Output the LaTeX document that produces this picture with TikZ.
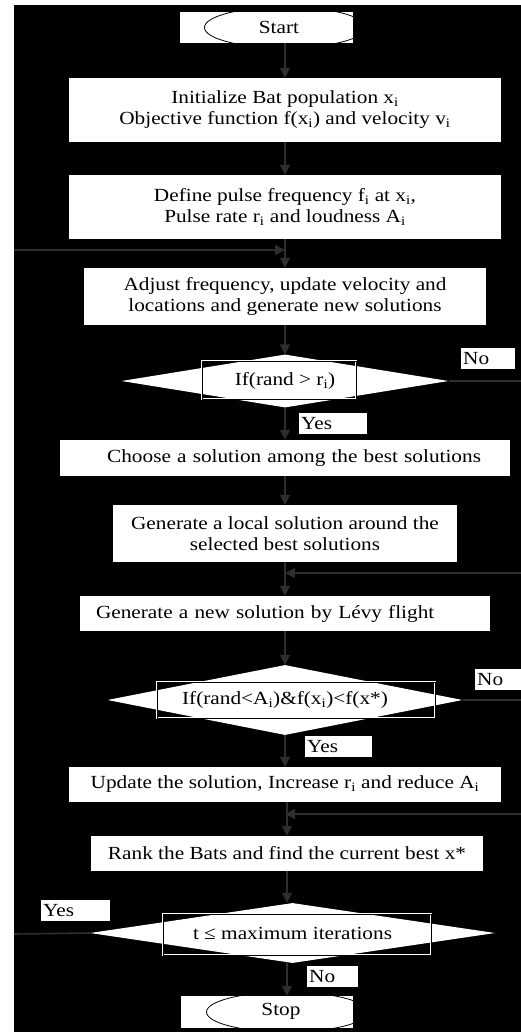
\documentclass[tikz,border=0pt]{standalone}
\usepackage{fontspec}
\setmainfont{Liberation Serif}[FakeStretch=1.15]
\usetikzlibrary{shapes.geometric,arrows.meta}

\tikzset{
  box/.style={fill=white,align=center,inner sep=0pt,font=\fontsize{18.5}{21}\selectfont},
  decision/.style={diamond,fill=white,inner sep=0pt,aspect=6,font=\fontsize{18.5}{21}\selectfont},
  frame/.style={draw=white,double=black,double distance=0.8pt,line width=0.8pt,inner sep=0pt},
  tag/.style={fill=white,inner sep=2pt,text width=#1,align=left,anchor=north west,
    minimum height=21pt,font=\fontsize{18.5}{21}\selectfont},
  arrow/.style={draw=black!82,line width=1.6pt,-{Triangle[length=10pt,width=10pt]}},
  link/.style={draw=black!82,line width=1.6pt}
}

\begin{document}
\begin{tikzpicture}[x=1pt,y=-1pt]
  \useasboundingbox (0,0) rectangle (521,1032);
  \fill[white] (0,0) rectangle (521,1032);
  \fill[black] (14,5) rectangle (521,1032);

  % terminals
  \node[box,minimum width=173pt,minimum height=31pt] (startbox) at (266.5,27.5) {};
  \node[ellipse,draw=black,line width=0.8pt,minimum width=161pt,minimum height=41pt] (start) at (285,27.5) {};
  \node[font=\fontsize{18.5}{21}\selectfont] at (279,27) {Start};

  % process boxes
  \node[box,minimum width=432pt,minimum height=64pt] (init) at (285,110)
    {Initialize Bat population x\textsubscript{i}\\Objective function f(x\textsubscript{i}) and velocity v\textsubscript{i}};
  \node[box,minimum width=432pt,minimum height=64pt] (define) at (285,207)
    {Define pulse frequency f\textsubscript{i} at x\textsubscript{i},\\Pulse rate r\textsubscript{i} and loudness A\textsubscript{i}};
  \node[box,minimum width=402pt,minimum height=57pt] (adjust) at (285,296.5)
    {Adjust frequency, update velocity and\\locations and generate new solutions};

  % first test
  \node[decision,minimum width=327pt,minimum height=53pt] (dec1) at (285,381) {If(rand > r\textsubscript{i})};
  \node[frame,minimum width=154pt,minimum height=38pt] (dec1box) at (279,380) {};
  \node[tag=50pt] (no1) at (461,348) {No};
  \node[tag=64pt] (yes1) at (299,413) {Yes};

  \node[box,align=right,inner xsep=29pt,text width=392pt,minimum height=36pt] (choose) at (285,458)
    {Choose a solution among the best solutions};
  \node[box,minimum width=344pt,minimum height=57pt] (local) at (285,533.5)
    {Generate a local solution around the\\selected best solutions};
  \node[box,align=left,inner xsep=16pt,text width=378pt,minimum height=35pt] (levy) at (285,613.5)
    {Generate a new solution by Lévy flight};

  % second test
  \node[decision,minimum width=355pt,minimum height=70pt] (dec2) at (285,700)
    {If(rand<A\textsubscript{i})\&f(x\textsubscript{i})<f(x*)};
  \node[frame,minimum width=278pt,minimum height=36pt] (dec2box) at (296,700) {};
  \node[tag=50pt] (no2) at (475,669) {No};
  \node[tag=63pt] (yes2) at (305,736) {Yes};

  \node[box,minimum width=432pt,minimum height=35pt] (update) at (285,784.5)
    {Update the solution, Increase r\textsubscript{i} and reduce A\textsubscript{i}};
  \node[box,minimum width=392pt,minimum height=35pt] (rank) at (287,853.5)
    {Rank the Bats and find the current best x*};

  % third test
  \node[decision,minimum width=405pt,minimum height=60pt] (dec3) at (292.5,933) {t ≤ maximum iterations};
  \node[frame,minimum width=268pt,minimum height=41pt] (dec3box) at (297,934.5) {};
  \node[tag=65pt] (yes3) at (41,900) {Yes};
  \node[tag=47pt] (no3) at (307,966) {No};

  \node[box,minimum width=172pt,minimum height=32pt] (stopbox) at (267,1012) {};
  \node[ellipse,draw=black,line width=0.8pt,minimum width=161pt,minimum height=40pt] (stop) at (287,1012) {};
  \node[font=\fontsize{18.5}{21}\selectfont] at (281,1011) {Stop};

  % loop ends
  \coordinate (loopA) at (14,250);
  \coordinate (exitA) at (521,381);
  \coordinate (loopB) at (521,573);
  \coordinate (exitB) at (521,700);
  \coordinate (loopC) at (521,814);
  \coordinate (exitC) at (14,934);

  % main flow
  \draw[arrow] (startbox.south -| init.north) -- (init.north);
  \draw[arrow] (init) -- (define);
  \draw[arrow] (define) -- (adjust);
  \draw[arrow] (adjust) -- (dec1);
  \draw[arrow] (dec1) -- (choose);
  \draw[arrow] (choose) -- (local);
  \draw[arrow] (local) -- (levy);
  \draw[arrow] (levy) -- (dec2);
  \draw[arrow] (dec2) -- (update);
  \draw[arrow] (update.south -| rank.north) -- (rank.north);
  \draw[arrow] (rank.south) -- (rank.south |- dec3.north);
  \draw[arrow] (dec3.south -| stop.north) -- (stopbox.north -| stop.north);

  % loops
  \draw[arrow] (loopA) -- (loopA -| define.south);
  \draw[link] (dec1.east) -- (exitA);
  \draw[arrow] (loopB) -- (loopB -| local.south);
  \draw[link] (dec2.east) -- (exitB);
  \draw[arrow] (loopC) -- (loopC -| update.south);
  \draw[link] (dec3.west) -- (exitC);
\end{tikzpicture}
\end{document}
